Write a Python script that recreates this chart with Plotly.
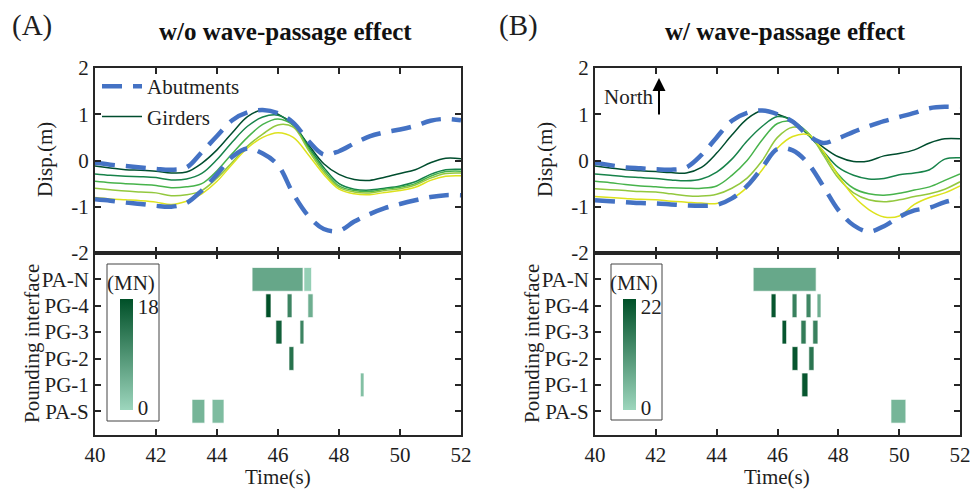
import plotly.graph_objects as go

# ---------------- data ----------------
time_s = [40.0, 40.5, 41.0, 41.5, 42.0, 42.5, 43.0, 43.5, 44.0, 44.5, 45.0, 45.5, 46.0,
          46.5, 47.0, 47.5, 48.0, 48.5, 49.0, 49.5, 50.0, 50.5, 51.0, 51.5, 52.0]

# (A) without wave-passage effect
A_abut_N = [-0.05, -0.09, -0.12, -0.15, -0.18, -0.20, -0.15, 0.18, 0.53, 0.87, 1.04, 1.09, 1.02,
            0.82, 0.42, 0.13, 0.20, 0.37, 0.52, 0.61, 0.67, 0.75, 0.86, 0.90, 0.87]
A_abut_S = [-0.84, -0.87, -0.91, -0.94, -0.98, -1.00, -0.92, -0.65, -0.30, 0.08, 0.26, 0.15, -0.10,
            -0.72, -1.20, -1.48, -1.52, -1.32, -1.16, -1.03, -0.94, -0.86, -0.79, -0.75, -0.75]
A_girders = [
    [-0.12, -0.16, -0.20, -0.21, -0.23, -0.27, -0.25, -0.06, 0.23, 0.60, 0.95, 1.09, 1.00,
     0.77, 0.34, -0.07, -0.30, -0.41, -0.43, -0.36, -0.28, -0.20, -0.05, 0.05, 0.04],
    [-0.29, -0.32, -0.34, -0.35, -0.37, -0.42, -0.40, -0.28, 0.02, 0.40, 0.74, 0.94, 0.98,
     0.78, 0.30, -0.15, -0.50, -0.62, -0.64, -0.60, -0.55, -0.46, -0.30, -0.20, -0.19],
    [-0.45, -0.48, -0.50, -0.52, -0.54, -0.59, -0.57, -0.50, -0.22, 0.15, 0.50, 0.78, 0.90,
     0.76, 0.26, -0.20, -0.55, -0.65, -0.67, -0.62, -0.58, -0.50, -0.34, -0.24, -0.23],
    [-0.60, -0.63, -0.66, -0.68, -0.70, -0.76, -0.74, -0.65, -0.38, -0.04, 0.31, 0.57, 0.77,
     0.72, 0.22, -0.25, -0.58, -0.68, -0.70, -0.65, -0.61, -0.53, -0.38, -0.28, -0.27],
    [-0.80, -0.83, -0.85, -0.87, -0.90, -0.95, -0.88, -0.72, -0.45, -0.08, 0.27, 0.50, 0.60,
     0.50, 0.12, -0.30, -0.62, -0.72, -0.74, -0.69, -0.65, -0.58, -0.43, -0.34, -0.33],
]

# (B) with wave-passage effect
B_abut_N = [-0.05, -0.10, -0.15, -0.17, -0.19, -0.20, -0.15, 0.12, 0.50, 0.86, 1.03, 1.08, 1.00,
            0.84, 0.55, 0.38, 0.48, 0.62, 0.74, 0.85, 0.94, 1.03, 1.13, 1.16, 1.15]
B_abut_S = [-0.86, -0.88, -0.90, -0.92, -0.93, -0.95, -0.97, -0.98, -0.96, -0.82, -0.55, -0.15, 0.25,
            0.22, -0.06, -0.55, -1.07, -1.40, -1.54, -1.42, -1.22, -1.08, -1.02, -0.90, -0.82]
B_girders = [
    [-0.12, -0.16, -0.20, -0.22, -0.24, -0.26, -0.27, -0.15, 0.16, 0.55, 0.90, 1.08, 1.00,
     0.86, 0.56, 0.29, 0.08, -0.02, -0.01, 0.10, 0.15, 0.23, 0.38, 0.47, 0.47],
    [-0.29, -0.32, -0.35, -0.37, -0.39, -0.42, -0.44, -0.40, -0.25, 0.03, 0.42, 0.74, 0.95,
     0.86, 0.56, 0.20, -0.15, -0.32, -0.40, -0.39, -0.31, -0.27, -0.20, 0.03, 0.06],
    [-0.45, -0.48, -0.52, -0.55, -0.57, -0.59, -0.60, -0.60, -0.55, -0.32, 0.00, 0.45, 0.80,
     0.84, 0.60, 0.17, -0.30, -0.60, -0.72, -0.75, -0.71, -0.64, -0.57, -0.43, -0.29],
    [-0.61, -0.63, -0.65, -0.67, -0.68, -0.72, -0.76, -0.77, -0.73, -0.60, -0.38, 0.00, 0.50,
     0.72, 0.60, 0.12, -0.38, -0.70, -0.85, -0.89, -0.85, -0.78, -0.72, -0.62, -0.46],
    [-0.78, -0.80, -0.82, -0.84, -0.85, -0.88, -0.90, -0.92, -0.93, -0.82, -0.58, -0.20, 0.27,
     0.52, 0.56, 0.20, -0.33, -0.77, -1.06, -1.22, -1.20, -0.95, -0.80, -0.70, -0.55],
]

interfaces = ["PA-S", "PG-1", "PG-2", "PG-3", "PG-4", "PA-N"]

A_bar_iface = ["PA-N", "PA-N", "PG-4", "PG-4", "PG-4", "PG-3", "PG-3", "PG-2", "PG-1", "PA-S", "PA-S"]
A_bar_start = [45.15, 46.85, 45.60, 46.30, 46.98, 45.93, 46.72, 46.36, 48.70, 43.18, 43.84]
A_bar_end = [46.82, 47.10, 45.77, 46.46, 47.15, 46.13, 46.85, 46.52, 48.82, 43.60, 44.23]
A_bar_force = [6.3, 1.0, 18.0, 11.0, 5.4, 16.0, 11.0, 13.5, 3.0, 4.5, 3.5]
A_force_max = 18

B_bar_iface = ["PA-N", "PG-4", "PG-4", "PG-4", "PG-4", "PG-3", "PG-3", "PG-3", "PG-2", "PG-2", "PG-1", "PA-S"]
B_bar_start = [45.20, 45.79, 46.48, 46.94, 47.30, 46.15, 46.77, 47.16, 46.48, 47.03, 46.80, 49.73]
B_bar_end = [47.27, 45.95, 46.64, 47.10, 47.43, 46.30, 46.94, 47.33, 46.67, 47.20, 47.00, 50.22]
B_bar_force = [7.5, 21.0, 14.0, 13.0, 6.5, 21.0, 15.0, 14.0, 21.0, 16.0, 21.0, 5.5]
B_force_max = 22

x_ticks = [40, 42, 44, 46, 48, 50, 52]
disp_ticks = [-2, -1, 0, 1, 2]
disp_ticktext = ["-2", "-1", "0", "1", "2"]

# ---------------- styling ----------------
W, H = 973, 500
FONT = "Liberation Serif"
INK = "#262626"
TXT = "#1e1e1e"
ABUT_COLOR = "#4472C4"
GIRDER_COLORS = ["#004d2e", "#17834a", "#47b34b", "#93c83e", "#dde21d"]
FORCE_SCALE = [[0.0, "#9dd6bd"], [1.0, "#005028"]]
TICK_SIZE = 21


def px(x):
    return x / W


def py(y):
    return 1 - y / H


fig = go.Figure()


def add_lines(xa, ya, abN, abS, girders, legend):
    for i, g in enumerate(girders):
        fig.add_trace(go.Scatter(
            x=time_s, y=g, mode="lines", xaxis=xa, yaxis=ya,
            line=dict(color=GIRDER_COLORS[i], width=1.5, shape="spline", smoothing=1.0),
            name="Girders", showlegend=(legend and i == 0), legendrank=2))
    for j, ab in enumerate([abN, abS]):
        fig.add_trace(go.Scatter(
            x=time_s, y=ab, mode="lines", xaxis=xa, yaxis=ya,
            line=dict(color=ABUT_COLOR, width=4.5, dash="20px,11px", shape="spline", smoothing=1.0),
            name="Abutments", showlegend=(legend and j == 0), legendrank=1))


def add_bars(xa, ya, iface, start, end, force, cax):
    fig.add_trace(go.Bar(
        y=iface, base=start, x=[e - s for s, e in zip(start, end)], orientation="h",
        xaxis=xa, yaxis=ya, width=0.9, showlegend=False,
        marker=dict(color=force, coloraxis=cax, line=dict(color="rgba(255,255,255,0.7)", width=1))))


add_lines("x", "y", A_abut_N, A_abut_S, A_girders, True)
add_bars("x2", "y2", A_bar_iface, A_bar_start, A_bar_end, A_bar_force, "coloraxis")
add_lines("x3", "y3", B_abut_N, B_abut_S, B_girders, False)
add_bars("x4", "y4", B_bar_iface, B_bar_start, B_bar_end, B_bar_force, "coloraxis2")

axis_common = dict(showline=True, linecolor=INK, linewidth=2, mirror="ticks", ticks="inside",
                   ticklen=6, tickwidth=2, tickcolor=INK, showgrid=False, zeroline=False,
                   automargin=False, tickfont=dict(family=FONT, size=TICK_SIZE, color=TXT))

xA = [px(95), px(461)]
xB = [px(595), px(960)]
yTop = [py(253), py(68)]
yBot = [py(435), py(253)]


def cbar(x_left, cmax):
    return dict(x=px(x_left), xanchor="left", y=py(410), yanchor="bottom",
                len=(410 - 299) / H, lenmode="fraction", thickness=13,
                xpad=0, ypad=0, outlinewidth=0, ticks="",
                tickvals=[0.018 * cmax, 0.928 * cmax], ticktext=["0", str(cmax)],
                tickfont=dict(family=FONT, size=TICK_SIZE, color=TXT))


cat_axis = dict(type="category", categoryorder="array", categoryarray=interfaces,
                tickmode="array", tickvals=interfaces, ticktext=interfaces, range=[-0.9, 6.0])

fig.update_layout(
    width=W, height=H, margin=dict(l=0, r=0, t=0, b=0, pad=0, autoexpand=False),
    paper_bgcolor="white", plot_bgcolor="white", barmode="overlay",
    font=dict(family=FONT, size=TICK_SIZE, color=TXT),
    xaxis=dict(domain=xA, range=[40, 52], tickvals=x_ticks, showticklabels=False, anchor="y", **axis_common),
    yaxis=dict(domain=yTop, range=[-2, 2], tickvals=disp_ticks, ticktext=disp_ticktext, anchor="x", **axis_common),
    xaxis2=dict(domain=xA, range=[40, 52], tickvals=x_ticks, anchor="y2", **axis_common),
    yaxis2=dict(domain=yBot, anchor="x2", **cat_axis, **axis_common),
    xaxis3=dict(domain=xB, range=[40, 52], tickvals=x_ticks, showticklabels=False, anchor="y3", **axis_common),
    yaxis3=dict(domain=yTop, range=[-2, 2], tickvals=disp_ticks, ticktext=disp_ticktext, anchor="x3", **axis_common),
    xaxis4=dict(domain=xB, range=[40, 52], tickvals=x_ticks, anchor="y4", **axis_common),
    yaxis4=dict(domain=yBot, anchor="x4", **cat_axis, **axis_common),
    coloraxis=dict(colorscale=FORCE_SCALE, cmin=0, cmax=A_force_max, colorbar=cbar(120, A_force_max)),
    coloraxis2=dict(colorscale=FORCE_SCALE, cmin=0, cmax=B_force_max, colorbar=cbar(623, B_force_max)),
    legend=dict(x=px(97), y=py(66), xanchor="left", yanchor="top", bgcolor="rgba(0,0,0,0)",
                font=dict(family=FONT, size=21, color=TXT), tracegroupgap=0, itemwidth=40),
)

# colorbar frames
for (x0, y0, x1, y1) in [(107, 264, 159, 421), (611, 264, 662, 420)]:
    fig.add_shape(type="rect", xref="paper", yref="paper", x0=px(x0), x1=px(x1), y0=py(y1), y1=py(y0),
                  line=dict(color="#444", width=1), fillcolor="rgba(0,0,0,0)", layer="below")

ann = [
    dict(text="(A)", x=px(32), y=py(25), font=dict(family=FONT, size=29, color=TXT)),
    dict(text="<b>w/o wave-passage effect</b>", x=px(285), y=py(31), font=dict(family=FONT, size=25, color="#111")),
    dict(text="(B)", x=px(518), y=py(25), font=dict(family=FONT, size=29, color=TXT)),
    dict(text="<b>w/ wave-passage effect</b>", x=px(785), y=py(31), font=dict(family=FONT, size=25, color="#111")),
    dict(text="(MN)", x=px(131), y=py(283), font=dict(family=FONT, size=TICK_SIZE, color=TXT)),
    dict(text="(MN)", x=px(634), y=py(283), font=dict(family=FONT, size=TICK_SIZE, color=TXT)),
    dict(text="North", x=px(628), y=py(97), font=dict(family=FONT, size=TICK_SIZE, color=TXT)),
    dict(text="Time(s)", x=px(278), y=py(477), font=dict(family=FONT, size=TICK_SIZE, color=TXT)),
    dict(text="Time(s)", x=px(777), y=py(477), font=dict(family=FONT, size=TICK_SIZE, color=TXT)),
    dict(text="Disp.(m)", x=px(45), y=py(160), textangle=-90, font=dict(family=FONT, size=TICK_SIZE, color=TXT)),
    dict(text="Disp.(m)", x=px(545), y=py(160), textangle=-90, font=dict(family=FONT, size=TICK_SIZE, color=TXT)),
    dict(text="Pounding interface", x=px(32), y=py(344), textangle=-90, font=dict(family=FONT, size=TICK_SIZE, color=TXT)),
    dict(text="Pounding interface", x=px(532), y=py(344), textangle=-90, font=dict(family=FONT, size=TICK_SIZE, color=TXT)),
]
for a in ann:
    fig.add_annotation(xref="paper", yref="paper", showarrow=False, xanchor="center", yanchor="middle", **a)

# North arrow (head position in paper coords, tail offset in pixels)
fig.add_annotation(xref="paper", yref="paper", axref="pixel", ayref="pixel",
                   x=px(659), y=py(78), ax=0, ay=38, text="", showarrow=True,
                   arrowhead=2, arrowsize=1.3, arrowwidth=2, arrowcolor="black")

fig.write_html("out.html")
